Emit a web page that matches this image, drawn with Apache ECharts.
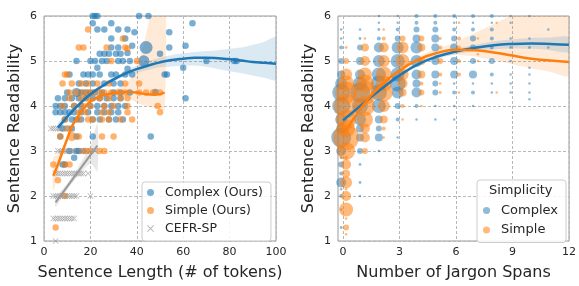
<!DOCTYPE html>
<html>
<head>
<meta charset="utf-8">
<script src="https://cdn.jsdelivr.net/npm/echarts@6/dist/echarts.min.js"></script>
<style>
  html, body { margin: 0; padding: 0; background: #fff; }
  #chart { width: 579px; height: 286px; }
</style>
</head>
<body>
<div id="chart"></div>
<script>
// ---- left panel: sentence length vs readability ----
// [length, readability, count]
const complexLenPts = [
  [21,6],[22,6],[23,6],[41,6],[45,6],
  [21,5.84],[29,5.84],[64,5.84],
  [23,5.7],[26,5.7],[32,5.7],[36,5.7],[39,5.64],[54,5.64],
  [29,5.5],[35,5.5],
  [29,5.3],[32,5.3],[38,5.34],[44,5.3,4],[54,5.3],[61,5.34],
  [24,5.16],[26,5.16],[28,5.16],[31,5.16],[33,5.16],[36,5.18],[50,5.16],
  [14,5],[20,5],[22,5],[25,5],[27,5],[32,5],[34,5],[37,5],[43,5,3],[70,5],[82,5],[83,5],
  [23,4.85],[36,4.83],[60,4.85],
  [11,4.7],[17,4.7],[19,4.7],[21,4.7],[24,4.7],[29,4.7],[31,4.7],[35,4.7],[38,4.7],[52,4.7],[53,4.7],
  [15,4.5],[18,4.5],[21,4.5],[26,4.5],[30,4.5],[33,4.5],
  [10,4.3],[14,4.3,2],[16,4.3],[18,4.3],[20,4.3],[22,4.3],[25,4.3],[30,4.3],[33,4.3],[37,4.3],[48,4.31],
  [6,4.17],[9,4.17],[12,4.17],[15,4.17],[18,4.17],[21,4.17],[24,4.17],[27,4.17],[30,4.17],[33,4.17],[61,4.17],
  [5,4],[7,4],[9,4],[13,4],[16,4],[20,4],[23,4],[26,4],[29,4],[32,4],[35,4],
  [5,3.86],[7,3.86],[9,3.86],[11,3.86],[13,3.86],[16,3.86],[19,3.86],[23,3.86],[26,3.86],[29,3.86],[32,3.86],
  [9,3.7],[12,3.7],[14,3.7],[16,3.7],[21,3.7],[24,3.7],[28,3.7],[31,3.7],[34,3.7],
  [8,3.5],[12,3.5],
  [7,3.32],[14,3.32],[21,3.32],[46,3.32],
  [11,3],[14,3],[15,3],[13,2.85],
  [8,2.7],[9,2.7]
];
const simpleLenPts = [
  [19,5.7],[34,5.5],
  [15,5.3],[17,5.3],[27,5.3],[35,5.3],[36,5.28],
  [29,5],[40,5],
  [9,4.7],[10,4.7],
  [8,4.5],[12,4.5],[16,4.5],[19,4.5],[23,4.5],[28,4.5],[35,4.5],[41,4.5],
  [11,4.3],[14,4.3],[17,4.3],[19,4.3],[21,4.3],[24,4.3],[26,4.3],[29,4.3],[32,4.3],[35,4.3],[41,4.3],[44,4.3],[47,4.3],[50,4.3],
  [11,4.17],[16,4.17],[19,4.17],[24,4.17],[28,4.17],[33,4.17],[36,4.17],
  [8,4],[13,4],[17,4],[20,4],[26,4],[30,4],[36,4],[49,4],
  [15,3.86],[18,3.86],[25,3.86],[28,3.86],[36,3.86],[50,3.86],
  [9,3.7],[15,3.7],[19,3.7],[21,3.7],[25,3.7],[28,3.7],[33,3.7],[38,3.7],
  [10,3.5],
  [7,3.32],[12,3.32,2],[15,3.32],[25,3.32],[30,3.32],
  [17,3],[18,3],[20,3],[24,3],[26,3],
  [4,2.7],[9,2.7],[11,2.7],
  [6,2.35],[9,2],[5,1.3]
];
const cefrLenPts = [
  [5,1],
  [4,1.5],[5,1.5],[6,1.5],[7,1.5],[8,1.5],[9,1.5],[10,1.5],[11,1.5],[12,1.5],[13,1.5],
  [4,2],[5,2],[6,2],[7,2],[8,2],[9,2],[10,2],[11,2],[12,2],[13,2],[14,2],[20,2],
  [5,2.5],[6,2.5],[7,2.5],[8,2.5],[9,2.5],[10,2.5],[11,2.5],[12,2.5],[13,2.5],[14,2.5],[15,2.5],[16,2.5],[17,2.5],[19,2.5],
  [6,3],[7,3],[8,3],[9,3],[10,3],[11,3],[12,3],[13,3],[14,3],[15,3],[16,3],[17,3],[18,3],[20,3],[22,3],
  [3,3.5],[4,3.5],[5,3.5],[6,3.5],[7,3.5],[8,3.5],[9,3.5],[10,3.5],[11,3.5],[12,3.5]
];

// fitted curves + bands (left)
const complexLenFitX = [6,10,15,20,25,30,35,40,45,50,55,60,65,70,75,80,85,90,95,100];
const complexLenFit  = [3.52,3.76,4.03,4.26,4.44,4.59,4.72,4.82,4.90,4.97,5.02,5.05,5.07,5.07,5.06,5.04,5.01,4.98,4.96,4.94];
const complexLenLow  = [3.42,3.70,3.99,4.22,4.40,4.54,4.66,4.74,4.80,4.86,4.88,4.90,4.90,4.87,4.82,4.77,4.73,4.68,4.63,4.58];
const complexLenHigh = [3.62,3.82,4.07,4.30,4.48,4.64,4.78,4.90,5.00,5.08,5.13,5.17,5.20,5.22,5.24,5.27,5.30,5.36,5.43,5.52];

const simpleLenFitX = [4,6,8,10,12,14,16,18,20,24,28,32,36,40,44,48,52];
const simpleLenFit  = [2.45,2.70,2.99,3.27,3.54,3.72,3.87,4.00,4.10,4.21,4.27,4.30,4.31,4.30,4.26,4.25,4.30];
const simpleLenLow  = [2.10,2.50,2.88,3.20,3.47,3.66,3.82,3.95,4.05,4.16,4.21,4.22,4.18,4.08,4.00,3.95,3.90];
const simpleLenHigh = [2.85,2.92,3.10,3.34,3.61,3.78,3.92,4.05,4.15,4.26,4.33,4.40,4.52,4.85,5.60,6.60,7.60];

const cefrFitX = [5,10,15,20,23];
const cefrFit  = [1.86,2.21,2.56,2.91,3.12];
const cefrLow  = [1.76,2.14,2.46,2.72,2.55];
const cefrHigh = [1.96,2.28,2.66,3.12,3.60];

// ---- right panel: jargon spans vs readability ----
// [spans, readability, count]
const complexJargonPts = [
  [0,5.7,1],[0,5.5,1],[0,5.3,4],[0,5,9],[0,4.7,16],[0,4.5,36],[0,4.3,81],[0,4,81],[0,3.7,36],[0,3.5,25],[0,3.3,100],[0,3,25],[0,2.85,2],[0,2.7,9],[0,2.5,4],[0,2.3,25],[0,2.15,1],[0,2,4],[0,1.7,1],[0,1.3,2],
  [1,5.7,1],[1,5.5,2],[1,5.3,9],[1,5,16],[1,4.7,25],[1,4.5,49],[1,4.3,100],[1,4,64],[1,3.7,36],[1,3.5,16],[1,3.3,16],[1,3,9],[1,2.7,2],[1,2.3,2],[1,2,1],
  [2,6,1],[2,5.85,1],[2,5.7,2],[2,5.5,4],[2,5.3,25],[2,5,36],[2,4.7,49],[2,4.5,64],[2,4.3,64],[2,4,49],[2,3.7,16],[2,3.5,9],[2,3.3,16],[2,3,1],
  [3,6,1],[3,5.85,1],[3,5.7,4],[3,5.5,9],[3,5.3,36],[3,5,49],[3,4.7,49],[3,4.5,64],[3,4.3,36],[3,4,9],[3,3.7,4],[3,3.3,1],
  [4,6,4],[4,5.85,4],[4,5.7,9],[4,5.5,16],[4,5.3,36],[4,5,36],[4,4.7,25],[4,4.5,16],[4,4.3,25],[4,4,4],[4,3.7,1],
  [5,6,4],[5,5.85,4],[5,5.7,9],[5,5.5,16],[5,5.3,16],[5,5,16],[5,4.7,16],[5,4.5,9],[5,4.3,9],[5,4,1],[5,3.7,1],
  [6,6,4],[6,5.85,1],[6,5.7,4],[6,5.5,9],[6,5.3,16],[6,5,16],[6,4.7,16],[6,4.5,1],[6,4.3,4],[6,4,1],[6,3.7,1],
  [7,6,4],[7,5.85,1],[7,5.7,4],[7,5.5,9],[7,5.3,9],[7,5,9],[7,4.7,16],[7,4.5,1],[7,4.3,4],[7,4,1],
  [8,6,4],[8,5.85,1],[8,5.7,4],[8,5.5,4],[8,5.3,4],[8,5,9],[8,4.7,4],[8,4.5,1],[8,4.3,1],
  [9,6,1],[9,5.85,1],[9,5.5,1],[9,5.3,2],[9,5,1],[9,4.7,1],[9,4.5,1],[9,4.3,1],
  [10,6,1],[10,5.5,1],[10,5.3,2],[10,4.85,1],[10,4.7,1],[10,4.5,1],[10,4.3,1],[10,4.15,1],
  [11,5.7,1],[11,5.3,1]
];
const simpleJargonPts = [
  [0,5.3,2],[0,5,9],[0,4.7,36],[0,4.5,64],[0,4.3,121],[0,4,144],[0,3.7,100],[0,3.5,81],[0,3.3,169],[0,3,81],[0,2.85,4],[0,2.7,25],[0,2.5,16],[0,2.3,36],[0,2.15,1],[0,2,25],[0,1.7,49],[0,1.5,1],[0,1.3,9],[0,1.15,1],
  [1,5.5,1],[1,5.3,16],[1,5,25],[1,4.7,49],[1,4.5,81],[1,4.3,144],[1,4,100],[1,3.7,64],[1,3.5,25],[1,3.3,25],[1,3,9],
  [2,5.7,1],[2,5.5,4],[2,5.3,25],[2,5,36],[2,4.7,64],[2,4.5,64],[2,4.3,81],[2,4,36],[2,3.7,16],[2,3.5,4],[2,3.3,1],
  [3,5.5,9],[3,5.3,36],[3,5,49],[3,4.7,36],[3,4.5,25],[3,4.3,16],[3,4,4],[3,3.7,1],
  [4,5.5,9],[4,5.3,16],[4,5,16],[4,4.7,16],[4,4.5,4],[4,4.3,9],[4,4,1],
  [5,5.5,2],[5,5.3,4],[5,5,9],[5,4.7,4],[5,4.5,1],[5,4.3,2],
  [6,5.85,1],[6,5.5,4],[6,5.3,4],[6,5,4],[6,4.7,4],[6,4.3,1],
  [7,5.5,1],[7,5.3,1],[7,5.15,1],[7,5,1],
  [8,5.85,1],[8,4.3,1]
];

const jargonFitX = [0,1,2,3,4,5,6,7,8,9,10,11,12];
const complexJargonFit  = [3.68,4.03,4.37,4.68,4.93,5.10,5.21,5.29,5.35,5.38,5.39,5.38,5.36];
const complexJargonLow  = [3.60,3.97,4.32,4.64,4.89,5.05,5.15,5.22,5.26,5.28,5.27,5.24,5.20];
const complexJargonHigh = [3.76,4.09,4.42,4.72,4.97,5.15,5.27,5.36,5.44,5.48,5.51,5.52,5.53];
const simpleJargonFit   = [3.35,3.98,4.45,4.79,5.03,5.18,5.25,5.24,5.19,5.12,5.05,5.01,4.98];
const simpleJargonLow   = [3.22,3.90,4.39,4.73,4.96,5.09,5.14,5.10,5.02,4.93,4.84,4.76,4.68];
const simpleJargonHigh  = [3.48,4.06,4.51,4.85,5.10,5.27,5.42,5.62,5.82,6.03,6.30,6.60,6.90];

const lenTicks = [0,20,40,60,80,100];
const jargonTicks = [0,3,6,9,12];

// ---- styles ----
const FONT = 'DejaVu Sans';
const BLUE = '#1f77b4', ORANGE = '#ff7f0e', GREY = '#999999';
const dodge = { complex: -0.1, simple: 0.16 };   // hue offset on the jargon axis
const xMark = 'path://M0,1L1,0L5,4L9,0L10,1L6,5L10,9L9,10L5,6L1,10L0,9L4,5Z';

const zip = (xs, ys) => xs.map((x, i) => [x, ys[i]]);

function fitLine(xs, ys, color, idx, width) {
  return {
    type: 'line', xAxisIndex: idx, yAxisIndex: idx, data: zip(xs, ys),
    smooth: true, symbol: 'none', z: 5,
    lineStyle: { color: color, width: width || 2.5 }, silent: true
  };
}
// confidence band: polygon between low and high, drawn through the axes
function fitBand(xs, low, high, color, idx) {
  return {
    type: 'custom', xAxisIndex: idx, yAxisIndex: idx, silent: true, z: 1,
    data: [[xs[0], low[0]]],
    renderItem: function (params, api) {
      const upper = xs.map((x, i) => api.coord([x, high[i]]));
      const lower = xs.map((x, i) => api.coord([x, low[i]])).reverse();
      const cs = params.coordSys;
      return {
        type: 'polygon',
        shape: { points: upper.concat(lower), smooth: 0.25 },
        style: { fill: color },
        clipPath: { type: 'rect', shape: { x: cs.x, y: cs.y, width: cs.width, height: cs.height } }
      };
    }
  };
}

const axisText = { color: '#262626', fontFamily: FONT, fontSize: 11 };
const nameText = { color: '#262626', fontFamily: FONT, fontSize: 16 };
const gridLine = { show: true, lineStyle: { color: '#b8b8b8', type: [3, 2], width: 1 } };

function yAxis(idx) {
  return {
    type: 'value', gridIndex: idx, min: 1, max: 6, interval: 1,
    name: 'Sentence Readability', nameLocation: 'middle', nameGap: 21, nameTextStyle: nameText,
    axisLine: { show: false }, axisTick: { show: false },
    axisLabel: Object.assign({ margin: 7 }, axisText),
    splitLine: gridLine
  };
}

let myChart = echarts.init(document.getElementById('chart'), null, { renderer: 'canvas' });

myChart.setOption({
  animation: false,
  backgroundColor: '#fff',
  grid: [
    { left: 44, right: 303, top: 16, bottom: 39, show: true, borderColor: '#9a9a9a', borderWidth: 1 },
    { left: 338, right: 10, top: 16, bottom: 39, show: true, borderColor: '#9a9a9a', borderWidth: 1 }
  ],
  xAxis: [
    {
      type: 'value', gridIndex: 0, min: 0, max: 100, interval: 20,
      name: 'Sentence Length (# of tokens)', nameLocation: 'middle', nameGap: 24, nameTextStyle: nameText,
      axisLine: { show: false }, axisTick: { show: false },
      axisLabel: Object.assign({ margin: 6 }, axisText),
      splitLine: gridLine
    },
    {
      type: 'value', gridIndex: 1, min: -0.27, max: 12,
      name: 'Number of Jargon Spans', nameLocation: 'middle', nameGap: 24, nameTextStyle: nameText,
      axisLine: { show: false },
      axisTick: { show: false, customValues: jargonTicks },
      axisLabel: Object.assign({ margin: 6, customValues: jargonTicks }, axisText),
      splitLine: Object.assign({ customValues: jargonTicks }, gridLine)
    }
  ],
  yAxis: [yAxis(0), yAxis(1)],
  legend: [
    {
      orient: 'vertical', left: 142, top: 182,
      padding: [4, 8, 6, 5], itemGap: 5, itemWidth: 7, itemHeight: 7,
      backgroundColor: 'rgba(255,255,255,0.85)', borderColor: '#cccccc', borderWidth: 1, borderRadius: 3,
      textStyle: { fontFamily: FONT, fontSize: 12.5, color: '#262626', padding: [0, 0, 0, 6], lineHeight: 13 },
      data: ['Complex (Ours)', 'Simple (Ours)', { name: 'CEFR-SP', icon: xMark }]
    },
    {
      orient: 'vertical', left: 477, top: 180,
      padding: [24, 8, 6, 6], itemGap: 6.5, itemWidth: 7, itemHeight: 7,
      backgroundColor: 'rgba(255,255,255,0.85)', borderColor: '#cccccc', borderWidth: 1, borderRadius: 3,
      textStyle: { fontFamily: FONT, fontSize: 13, color: '#262626', padding: [0, 0, 0, 6], lineHeight: 13 },
      data: ['Complex', 'Simple']
    }
  ],
  graphic: [
    { type: 'text', left: 489, top: 184, z: 100,
      style: { text: 'Simplicity', font: '13px "DejaVu Sans"', fill: '#262626' } }
  ],
  series: [
    // left panel
    fitBand(complexLenFitX, complexLenLow, complexLenHigh, 'rgba(31,119,180,0.16)', 0),
    fitBand(simpleLenFitX, simpleLenLow, simpleLenHigh, 'rgba(255,127,14,0.16)', 0),
    fitBand(cefrFitX, cefrLow, cefrHigh, 'rgba(150,150,150,0.22)', 0),
    {
      name: 'Complex (Ours)', type: 'scatter', xAxisIndex: 0, yAxisIndex: 0, z: 3,
      data: complexLenPts, symbolSize: v => 6.5 * Math.sqrt(v[2] || 1),
      itemStyle: { color: BLUE, opacity: 0.6 }
    },
    {
      name: 'Simple (Ours)', type: 'scatter', xAxisIndex: 0, yAxisIndex: 0, z: 3,
      data: simpleLenPts, symbolSize: v => 6.5 * Math.sqrt(v[2] || 1),
      itemStyle: { color: ORANGE, opacity: 0.6 }
    },
    {
      name: 'CEFR-SP', type: 'scatter', xAxisIndex: 0, yAxisIndex: 0, z: 3,
      data: cefrLenPts, symbol: xMark, symbolSize: 6,
      itemStyle: { color: '#8a8a8a', opacity: 0.6 }
    },
    fitLine(complexLenFitX, complexLenFit, BLUE, 0),
    fitLine(simpleLenFitX, simpleLenFit, ORANGE, 0),
    fitLine(cefrFitX, cefrFit, GREY, 0, 2),

    // right panel
    fitBand(jargonFitX, simpleJargonLow, simpleJargonHigh, 'rgba(255,127,14,0.16)', 1),
    fitBand(jargonFitX, complexJargonLow, complexJargonHigh, 'rgba(31,119,180,0.16)', 1),
    {
      name: 'Complex', type: 'scatter', xAxisIndex: 1, yAxisIndex: 1, z: 3,
      data: complexJargonPts.map(p => [p[0] + dodge.complex, p[1], p[2]]),
      symbolSize: v => Math.max(2.5, 2 * Math.sqrt(v[2])),
      itemStyle: { color: BLUE, opacity: 0.5 }
    },
    {
      name: 'Simple', type: 'scatter', xAxisIndex: 1, yAxisIndex: 1, z: 3,
      data: simpleJargonPts.map(p => [p[0] + dodge.simple, p[1], p[2]]),
      symbolSize: v => Math.max(2.5, 2 * Math.sqrt(v[2])),
      itemStyle: { color: ORANGE, opacity: 0.55 }
    },
    fitLine(jargonFitX, complexJargonFit, BLUE, 1),
    fitLine(jargonFitX, simpleJargonFit, ORANGE, 1)
  ]
});
</script>
</body>
</html>
